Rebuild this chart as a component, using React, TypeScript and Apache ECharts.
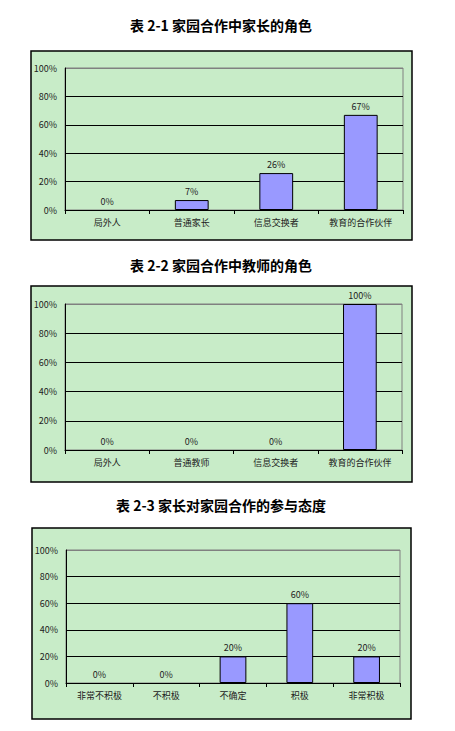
import React, { useEffect, useRef } from "react";
import * as echarts from "echarts";

const titles = ["表 2-1 家园合作中家长的角色", "表 2-2 家园合作中教师的角色", "表 2-3 家长对家园合作的参与态度"];

const parentRoles = ["局外人", "普通家长", "信息交换者", "教育的合作伙伴"];
const parentRoleValues = [0, 7, 26, 67];

const teacherRoles = ["局外人", "普通教师", "信息交换者", "教育的合作伙伴"];
const teacherRoleValues = [0, 0, 0, 100];

const attitudes = ["非常不积极", "不积极", "不确定", "积极", "非常积极"];
const attitudeValues = [0, 0, 20, 60, 20];

const font = "'Noto Sans CJK SC', sans-serif";

// outer green boxes: [x, y, w, h]
const boxes = [
  [31, 51, 381, 189],
  [31, 286, 381, 196],
  [32, 528, 379, 191],
];
const titleY = [25, 265, 505];

const grids = [
  { left: 65, right: 52, top: 68, height: 142 },
  { left: 65, right: 53, top: 304, height: 146 },
  { left: 66, right: 55, top: 550, height: 133 },
];

const App = () => {
  const chartRef = useRef<HTMLDivElement>(null);

  useEffect(() => {
    const myChart = echarts.init(chartRef.current!, null, { renderer: "svg" });
    const cats = [parentRoles, teacherRoles, attitudes];
    const vals = [parentRoleValues, teacherRoleValues, attitudeValues];

    const option = {
      animation: false,
      graphic: [
        ...boxes.map((b) => ({
          type: "rect",
          z: -10,
          shape: { x: b[0], y: b[1], width: b[2], height: b[3] },
          style: { fill: "#c8ecc8", stroke: "#000", lineWidth: 1.5 },
        })),
        ...titles.map((t, i) => ({
          type: "text",
          x: 221,
          y: titleY[i],
          style: {
            text: t,
            fill: "#000",
            font: `bold 14px ${font}`,
            align: "center",
            verticalAlign: "middle",
          },
        })),
      ],
      grid: grids.map((g) => ({
        ...g,
        show: true,
        borderColor: "#808080",
        borderWidth: 1,
        backgroundColor: "transparent",
      })),
      xAxis: cats.map((c, i) => ({
        type: "category",
        gridIndex: i,
        data: c,
        axisLine: { lineStyle: { color: "#000", width: 1 } },
        axisTick: { show: true, length: 4, lineStyle: { color: "#000" } },
        axisLabel: { color: "#222", fontSize: 9, fontFamily: font, margin: 8 },
      })),
      yAxis: cats.map((_, i) => ({
        type: "value",
        gridIndex: i,
        min: 0,
        max: 100,
        interval: 20,
        axisLine: { show: true, lineStyle: { color: "#000", width: 1 } },
        axisTick: { show: false },
        axisLabel: { color: "#222", fontSize: 9, fontFamily: font, formatter: "{value}%", margin: 8 },
        splitLine: {
          show: true,
          lineStyle: { color: ["#000", "#000", "#000", "#000", "#000", "#808080"], width: 1 },
        },
      })),
      series: vals.map((v, i) => ({
        type: "bar",
        xAxisIndex: i,
        yAxisIndex: i,
        // zero-height bars get no outline, as in the original
        data: v.map((x) => (x === 0 ? { value: x, itemStyle: { borderWidth: 0 } } : x)),
        barWidth: "40%",
        itemStyle: { color: "#9999ff", borderColor: "#000", borderWidth: 1 },
        label: {
          show: true,
          position: "top",
          formatter: "{c}%",
          color: "#222",
          fontSize: 9,
          fontFamily: font,
          distance: 4,
        },
      })),
    };
    myChart.setOption(option);
    return () => {
      myChart.dispose();
    };
  }, []);

  return (
    <div
      ref={chartRef}
      style={{ position: "absolute", left: 0, top: 0, width: 455, height: 731, background: "#fff" }}
    ></div>
  );
};

export default App;
